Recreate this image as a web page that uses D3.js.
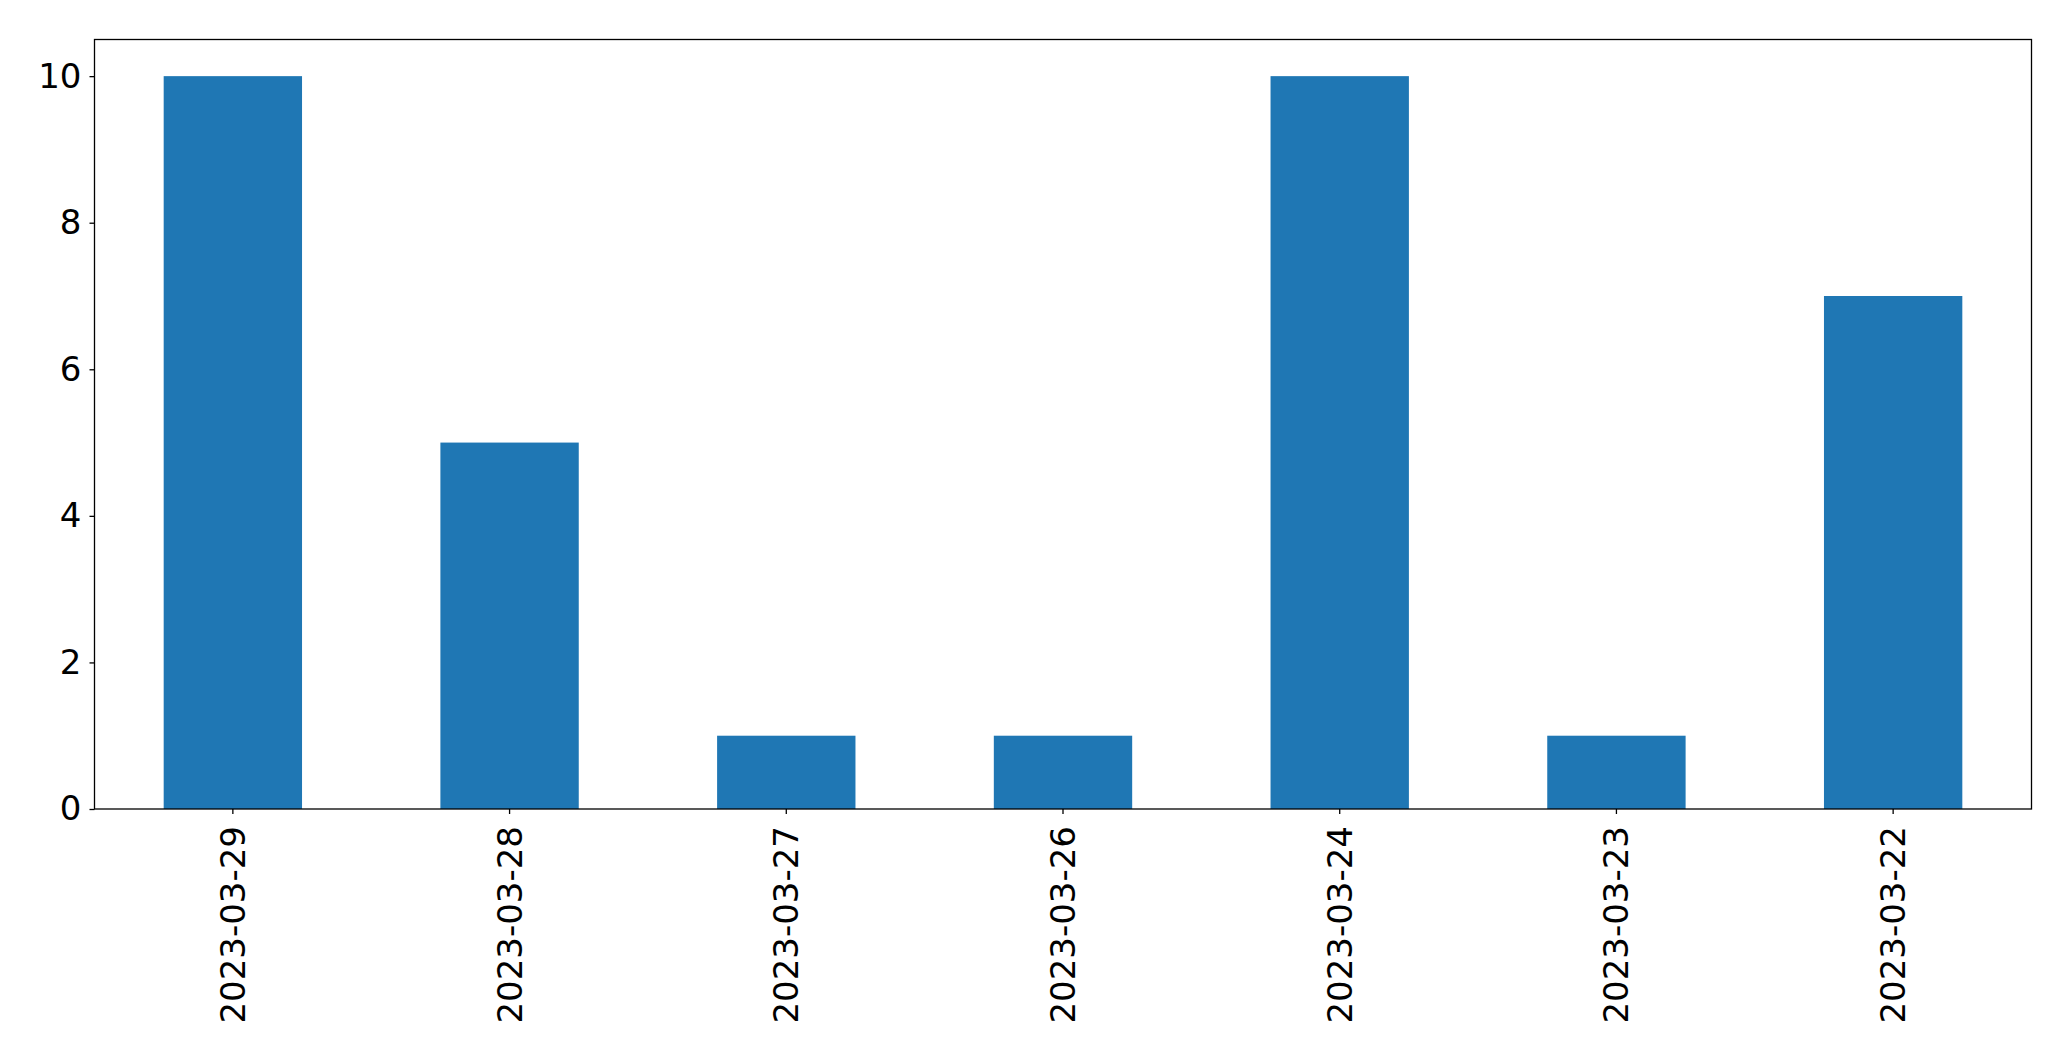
<!DOCTYPE html>
<html>
<head>
<meta charset="utf-8">
<script src="https://cdn.jsdelivr.net/npm/d3@7"></script>
<style>
html,body{margin:0;padding:0;background:#fff;}
svg{display:block;}
</style>
</head>
<body>
<svg id="chart" width="2071" height="1061"></svg>
<script>
const categories = ["2023-03-29","2023-03-28","2023-03-27","2023-03-26","2023-03-24","2023-03-23","2023-03-22"];
const values = [10, 5, 1, 1, 10, 1, 7];
const yTicks = [0, 2, 4, 6, 8, 10];

const W = 2071, H = 1061;
const m = {left: 94.5, right: 2031.5, top: 39.5, bottom: 809};
const svg = d3.select("#chart");
const font = "'DejaVu Sans', sans-serif";

const x = d3.scaleBand().domain(categories).range([m.left, m.right]).paddingInner(0.5).paddingOuter(0.25);
const y = d3.scaleLinear().domain([0, 10.5]).range([m.bottom, m.top]);

svg.append("g").selectAll("rect").data(values).join("rect")
  .attr("x", (d,i) => x(categories[i]))
  .attr("y", d => y(d))
  .attr("width", x.bandwidth())
  .attr("height", d => y(0) - y(d))
  .attr("fill", "#1f77b4");

// frame
svg.append("rect")
  .attr("x", m.left).attr("y", m.top)
  .attr("width", m.right - m.left).attr("height", m.bottom - m.top)
  .attr("fill", "none").attr("stroke", "#000").attr("stroke-width", 1.3);

// y axis
const yAxis = svg.append("g").attr("transform", `translate(${m.left},0)`)
  .call(d3.axisLeft(y).tickValues(yTicks).tickFormat(d3.format("d")).tickSize(5).tickPadding(8));
yAxis.select(".domain").remove();
yAxis.selectAll("line").attr("stroke", "#000").attr("stroke-width", 1.3);
yAxis.selectAll("text").attr("font-family", font).attr("font-size", 34).attr("fill", "#000");

// x axis
const xAxis = svg.append("g").attr("transform", `translate(0,${m.bottom})`)
  .call(d3.axisBottom(x).tickSize(5).tickPadding(0));
xAxis.select(".domain").remove();
xAxis.selectAll("line").attr("stroke", "#000").attr("stroke-width", 1.3);
xAxis.selectAll("text")
  .attr("font-family", font).attr("font-size", 34).attr("fill", "#000")
  .attr("text-anchor", "end")
  .attr("dy", null)
  .attr("y", 0)
  .attr("dominant-baseline", "central")
  .attr("transform", "translate(0,17) rotate(-90)");
</script>
</body>
</html>
